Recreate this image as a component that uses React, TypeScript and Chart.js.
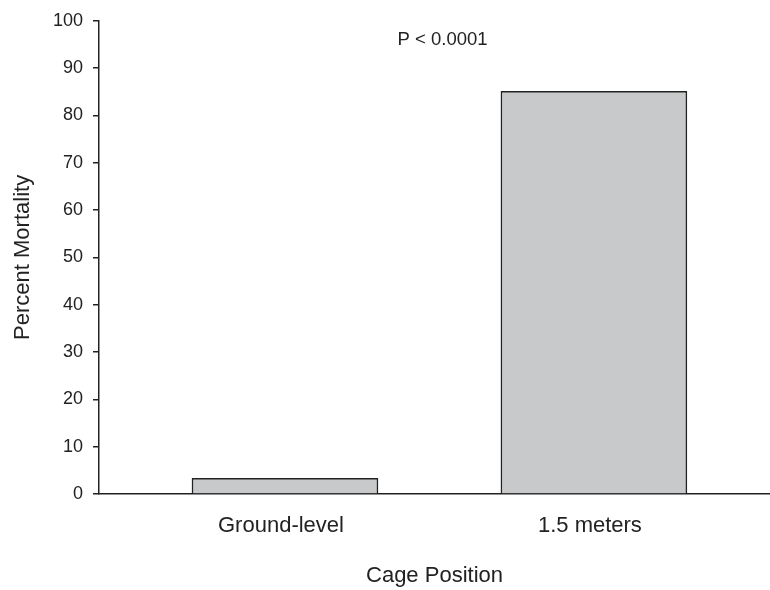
import React, { useEffect, useRef } from "react";
import { Chart, registerables } from "chart.js";

Chart.register(...registerables);

const categories = ["Ground-level", "1.5 meters"];
const categoryPositions = [1, 2];
const mortality = [3.3, 85.1];
const yTicks = [0, 10, 20, 30, 40, 50, 60, 70, 80, 90, 100];
const annotationText = "P < 0.0001";
const annotationAt = { x: 1.51, y: 96 };

const FONT = 'Arial, "Liberation Sans", Helvetica, sans-serif';
const INK = "#222222";

const annotationPlugin = {
  id: "pAnnotation",
  afterDraw(chart: any) {
    const { ctx, scales } = chart;
    const x = scales.x.getPixelForValue(annotationAt.x);
    const y = scales.y.getPixelForValue(annotationAt.y);
    ctx.save();
    ctx.font = `18.5px ${FONT}`;
    ctx.fillStyle = INK;
    ctx.textAlign = "center";
    ctx.textBaseline = "middle";
    ctx.fillText(annotationText, x, y);
    ctx.restore();
  },
};

export default function App() {
  const ref = useRef<HTMLCanvasElement | null>(null);

  useEffect(() => {
    if (!ref.current) return;
    const chart = new Chart(ref.current, {
      type: "bar",
      data: {
        datasets: [
          {
            data: categoryPositions.map((x, i) => ({ x, y: mortality[i] })),
            backgroundColor: "#c8c9cb",
            borderColor: INK,
            borderWidth: 1.5,
            barThickness: 186,
          },
        ],
      },
      options: {
        animation: false,
        responsive: false,
        layout: { padding: { top: 16, left: 0, right: 0, bottom: 0 } },
        plugins: {
          legend: { display: false },
          tooltip: { enabled: false },
        },
        scales: {
          x: {
            type: "linear",
            offset: false,
            bounds: "data",
            min: 0.398,
            max: 2.57,
            afterBuildTicks: (scale: any) => {
              scale.ticks = categoryPositions.map((v) => ({ value: v }));
            },
            afterFit: (scale: any) => {
              scale.height = 96;
            },
            grid: { display: false, drawTicks: false, offset: false },
            border: { display: true, color: INK, width: 1.5 },
            ticks: {
              autoSkip: false,
              maxRotation: 0,
              padding: 19,
              labelOffset: -4,
              color: INK,
              font: { family: FONT, size: 22 },
              callback: (v: any) => {
                const i = categoryPositions.indexOf(Number(v));
                return i >= 0 ? categories[i] : "";
              },
            },
            title: {
              display: true,
              text: "Cage Position",
              color: INK,
              font: { family: FONT, size: 22 },
              padding: { top: 0, bottom: 1 },
            },
          },
          y: {
            type: "linear",
            min: 0,
            max: 100,
            afterBuildTicks: (scale: any) => {
              scale.ticks = yTicks.map((v) => ({ value: v }));
            },
            afterFit: (scale: any) => {
              scale.width = 99;
            },
            grid: {
              drawOnChartArea: false,
              drawTicks: true,
              tickLength: 6,
              color: INK,
              lineWidth: 1.5,
            },
            border: { display: true, color: INK, width: 1.5 },
            ticks: {
              padding: 10,
              color: INK,
              font: { family: FONT, size: 18 },
            },
            title: {
              display: true,
              text: "Percent Mortality",
              color: INK,
              font: { family: FONT, size: 22 },
              padding: { top: 10, bottom: 0 },
            },
          },
        },
      },
      plugins: [annotationPlugin],
    } as any);
    return () => chart.destroy();
  }, []);

  return (
    <div style={{ position: "fixed", left: 0, top: 0, width: 770, height: 590, background: "#fff" }}>
      <canvas ref={ref} width={770} height={590} style={{ display: "block" }} />
    </div>
  );
}
